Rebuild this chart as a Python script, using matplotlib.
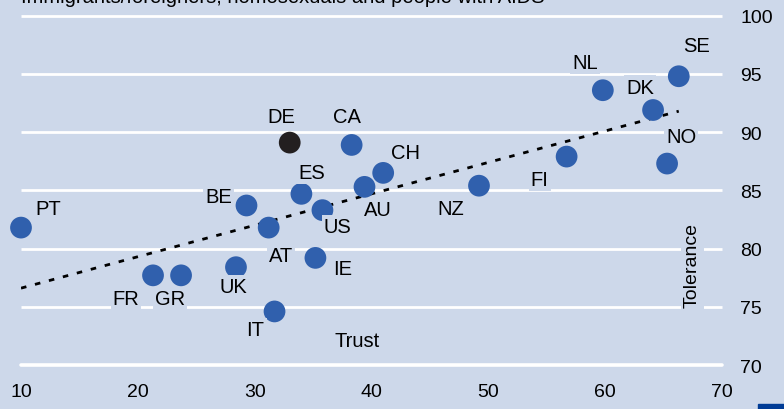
import numpy as np
import matplotlib.pyplot as plt
from matplotlib.patches import Rectangle

plt.rcParams["font.family"] = ["Liberation Sans", "DejaVu Sans"]

# trust (x) vs tolerance (y) by country
countries = ["PT", "FR", "GR", "UK", "IT", "AT", "BE", "ES", "US", "IE",
             "DE", "CA", "AU", "CH", "NZ", "FI", "NL", "DK", "NO", "SE"]
trust = [10.0, 21.3, 23.7, 28.4, 31.7, 31.2, 29.3, 34.0, 35.8, 35.2,
         33.0, 38.3, 39.4, 41.0, 49.2, 56.7, 59.8, 64.1, 65.3, 66.3]
tolerance = [81.8, 77.7, 77.7, 78.4, 74.6, 81.8, 83.7, 84.7, 83.3, 79.2,
             89.1, 88.9, 85.3, 86.5, 85.4, 87.9, 93.6, 91.9, 87.3, 94.8]
# trend line end points
trend_x = [10, 66.3]
trend_y = [76.6, 91.8]

# label offsets in pixels (dx right, dy up)
label_off = {
    "PT": (27, 19), "FR": (-27, -23), "GR": (-11, -23), "UK": (-3, -19),
    "IT": (-19, -18), "AT": (12, -28), "BE": (-28, 9), "ES": (10, 21),
    "US": (15, -16), "IE": (27, -11), "DE": (-8, 26), "CA": (-5, 28),
    "AU": (13, -23), "CH": (22, 20), "NZ": (-28, -23), "FI": (-27, -23),
    "NL": (-18, 28), "DK": (-13, 23), "NO": (14, 27), "SE": (18, 31),
}

bg = "#cdd8ea"
blue = "#3060ad"

fig = plt.figure(figsize=(7.84, 4.10), dpi=100, facecolor=bg)
ax = fig.add_axes([21 / 784, 44 / 410, 701 / 784, 349.3 / 410])
ax.set_facecolor(bg)
ax.set_xlim(10, 70)
ax.set_ylim(70, 100)
for s in ax.spines.values():
    s.set_visible(False)

for yv in range(70, 101, 5):
    ax.plot([10, 70], [yv, yv], color="white", lw=2.6 if yv == 70 else 2.0,
            solid_capstyle="round" if yv == 70 else "butt", zorder=1, clip_on=False)

ax.plot(trend_x, trend_y, color="black", lw=2, linestyle=(0, (2, 3.2)), zorder=2)

colors = ["#231f20" if c == "DE" else blue for c in countries]
ax.scatter(trust, tolerance, s=245, c=colors, zorder=3, clip_on=False, linewidths=0)

for c, x, y in zip(countries, trust, tolerance):
    dx, dy = label_off[c]
    ax.annotate(c, (x, y), xytext=(dx * 0.72, dy * 0.72), textcoords="offset points",
                ha="center", va="center", fontsize=14.5, zorder=4,
                bbox=dict(boxstyle="square,pad=0.1", fc=bg, ec="none"))

ax.text(38.8, 72.1, "Trust", ha="center", va="center", fontsize=14.5,
        bbox=dict(boxstyle="square,pad=0.1", fc=bg, ec="none"))
ax.text(67.45, 78.6, "Tolerance", ha="center", va="center", fontsize=14,
        rotation=90, zorder=4, bbox=dict(boxstyle="square,pad=0.15", fc=bg, ec="none"))

ax.yaxis.tick_right()
ax.set_yticks(range(70, 101, 5))
ax.set_xticks(range(10, 71, 10))
ax.tick_params(axis="both", length=0, labelsize=14)
ax.tick_params(axis="y", pad=13)
ax.tick_params(axis="x", pad=13)
ax.grid(False)

fig.text(21 / 784, 1 - 3 / 410, "Immigrants/foreigners, homosexuals and people with AIDS",
         fontsize=14.5, va="baseline", ha="left")

fig.patches.append(Rectangle((758 / 784, 0), 26 / 784, 5.5 / 410,
                             transform=fig.transFigure, color="#003c96"))

fig.savefig("out.png", dpi=100, facecolor=bg)
